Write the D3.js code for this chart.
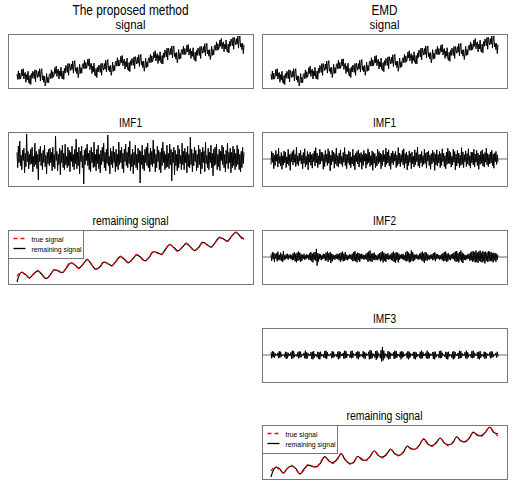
<!DOCTYPE html>
<html>
<head>
<meta charset="utf-8">
<script src="https://cdn.jsdelivr.net/npm/d3@7"></script>
<style>
  body { margin: 0; background: #fff; }
  text { font-family: "Liberation Sans", Arial, sans-serif; fill: #000; }
</style>
</head>
<body>
<div id="chart-area"></div>
<script>
// ---- data (values x10) ----
// observed signal (same in both columns)
const signal = [
  9,-5,18,-5,12,-4, 3,22,4,24,-4,10, 14,-13,8,-6,17,-12, -16,6,-19,11,-2,17,
  12,-3,21,-12,20,9, 0,17,2,24,-9,16, 24,-6,5,-13,4,-23, -12,11,-14,1,-14,9,
  11,-3,21,-2,16,1, 8,27,11,31,3,19, 23,-4,18,4,28,0, -4,18,-5,25,12,33,
  28,14,38,6,38,27, 19,37,22,45,12,37, 46,17,27,10,28,0, 12,36,11,27,12,35,
  38,24,47,24,41,25, 32,50,32,51,22,36, 39,11,31,16,39,9, 4,25,0,29,15,34,
  28,14,38,6,39,28, 20,38,23,47,15,40, 49,20,31,15,33,6, 18,42,17,33,19,42,
  45,31,54,31,48,32, 39,58,40,60,32,46, 50,23,43,29,53,23, 19,41,16,46,33,52,
  47,33,56,24,57,45, 37,55,39,62,30,54, 63,34,44,27,45,17, 29,53,27,43,29,51,
  54,40,63,41,59,43, 50,69,53,73,45,61, 65,38,60,46,70,42, 38,60,37,67,54,75,
  70,56,80,48,80,69, 61,79,63,86,53,78, 86,57,67,50,68,40, 52,76,50,66,52,74,
  77,63,85,62,79,63, 69,88,70,90,61,76, 79,52,72,58,81,52, 47,69,44,74,60,80,
  74,60,84,52,85,74, 66,84,69,92,59,84, 93,64,75,58,76,49, 61,85,60,76,62,85,
  88,74,97,74,92,76, 83,102,85,106,78,93, 97,70,91,78,102,73, 69,91,67,98,85,105,
  100,86,109,77,109,98, 89,106,91,113,80,105, 113,83,93,76,93,65, 89
]

// IMF1 of the proposed method
const imf1Proposed = [
  6,-9,12,-4,17,-7,3,-11,8,-2,10,-14,5,-8,24,-3,7,-10,4,-6,
  9,-5,11,-13,2,-8,15,-6,7,-10,4,-21,9,-3,12,-7,5,-11,8,-4,
  13,-8,3,-15,6,-5,9,-7,10,-4,6,-12,11,-8,4,-10,22,-2,7,-12,
  4,-6,10,-16,8,-4,13,-9,5,-11,14,-6,2,-9,11,-7,8,-13,6,-3,
  12,-8,4,-11,9,-5,19,-10,6,-7,11,-15,7,-3,12,-9,3,-25,8,-6,
  10,-2,14,-7,5,-11,8,-13,11,-4,6,-9,16,-8,4,-12,9,-5,13,-10,
  4,-14,8,-6,11,-3,15,-9,6,-12,9,-5,23,-7,2,-15,10,-6,7,-9,
  12,-4,6,-13,9,-8,4,-11,16,-6,8,-4,11,-10,5,-14,9,-3,14,-7,
  6,-9,11,-5,17,-12,4,-8,9,-15,6,-6,13,-9,4,-11,10,-4,8,-24,
  7,-6,13,-10,3,-12,9,-4,11,-7,15,-9,5,-13,10,-6,7,-8,18,-5,
  9,-13,4,-9,12,-3,8,-11,6,-14,10,-7,16,-4,7,-11,4,-9,13,-8,
  5,-10,14,-6,9,-22,6,-4,11,-16,8,-7,4,-12,13,-9,9,-5,3,-11,
  15,-6,7,-11,10,-4,6,-14,12,-8,4,-9,21,-6,9,-13,5,-7,11,-3,
  8,-12,4,-9,13,-6,9,-15,6,-10,11,-4,7,-13,16,-5,3,-9,10,-11,
  6,-4,13,-9,5,-17,9,-7,11,-6,14,-11,4,-8,9,-12,7,-2,13,-6,
  11,-9,4,-13,8,-5,15,-10,6,-4,10,-14,6,-9,12,-7,9,-11,5,-8,
  13,-6,9,-11,4,-13,7,-9,11,-5,6
]

// EMD intrinsic mode functions
const imf1Emd = [
  -10,14,-6,11,-18,7,-12,16,-4,9,-15,20,-8,5,-13,12,-19,6,-11,15,
  -7,13,-16,4,-9,18,-12,8,-21,10,-5,14,-11,17,-6,9,-14,22,-10,6,
  -13,11,-4,16,-9,7,-18,12,-8,19,-15,5,-11,14,-20,9,-6,13,-12,8,
  -17,10,-5,15,-13,21,-7,11,-16,6,-10,18,-9,13,-4,12,-19,8,-14,16,
  -6,9,-12,19,-8,14,-22,7,-11,16,-5,13,-17,10,-9,20,-13,6,-15,11,
  -8,17,-10,5,-14,12,-6,21,-12,9,-18,8,-7,15,-11,13,-16,4,-9,18,
  -13,7,-20,11,-5,14,-9,17,-15,10,-6,12,-19,8,-12,16,-4,11,-17,9,
  -10,19,-7,13,-14,6,-11,15,-21,12,-8,10,-16,5,-13,18,-9,14,-6,11,
  -18,9,-12,16,-5,8,-15,20,-10,13,-7,17,-13,6,-19,11,-8,15,-11,10,
  -4,14,-16,7,-12,21,-9,11,-14,8,-6,16,-11,19,-17,10,-8,13,-20,7,
  -12,15,-6,10,-18,13,-9,5,-15,17,-11,12,-5,22,-13,8,-16,9,-7,14,
  -14,6,-10,18,-8,11,-17,13,-4,15,-12,7,-19,10,-9,16,-6,12,-21,9,
  -11,17,-13,8,-7,14,-16,10,-12,19,-5,11,-14,6,-18,13,-10,20,-8,15,
  -9,12,-15,5,-11,18,-6,14,-20,9,-13,16,-8,11,-16,7,-12,21,-10,13,
  -16,8,-5,15,-14,10,-9,19,-12,6,-17,13,-7,12,-11,18,-15,9,-6,16,
  -12,11,-19,7,-10,14,-8,17,-13,9,-15,12,-6,20,-11,10,-14,8,-9,13,
  -7,16,-12,9,-17,11,-5,14,-10,8,-6
]

const imf2Emd = [
  5,-7,9,-4,8,-9,6,-3,7,-8,10,-5,4,-6,8,-7,5,-9,11,-6,
  3,-4,5,-3,6,-5,4,-2,5,-4,3,-6,7,-5,9,-8,6,-10,8,-7,
  10,-6,8,-9,5,-7,4,-3,6,-5,3,-4,5,-2,4,-5,7,-6,9,-8,
  6,-10,8,-5,9,-7,15,-16,7,-9,6,-4,5,-6,3,-4,6,-3,5,-7,
  8,-6,10,-9,7,-5,9,-11,6,-8,5,-4,3,-5,4,-3,6,-4,5,-6,
  7,-9,8,-6,10,-8,6,-7,9,-5,4,-6,3,-4,5,-3,4,-5,6,-8,
  9,-7,11,-8,6,-10,8,-6,7,-9,5,-4,6,-3,4,-5,3,-4,6,-5,
  8,-9,10,-7,12,-8,6,-9,7,-5,8,-6,4,-5,3,-6,5,-4,7,-8,
  9,-6,11,-10,8,-7,6,-9,5,-4,7,-5,3,-4,5,-6,8,-7,10,-9,
  7,-11,9,-6,8,-10,6,-5,4,-3,5,-4,6,-5,3,-7,9,-8,11,-7,
  8,-10,6,-9,12,-7,9,-8,5,-6,4,-3,5,-4,3,-5,6,-4,8,-6,
  10,-8,7,-11,9,-6,8,-7,5,-4,3,-5,4,-3,5,-6,7,-5,9,-8,
  6,-4,5,-3,4,-5,3,-4,5,-6,7,-8,9,-7,10,-9,6,-8,7,-5,
  4,-6,5,-3,6,-4,8,-7,10,-9,11,-8,7,-10,9,-6,12,-9,8,-11,
  6,-5,4,-6,3,-4,5,-3,6,-7,8,-6,10,-9,11,-8,9,-10,12,-9,
  8,-11,10,-7,12,-9,8,-10,11,-8,9,-12,10,-7,8,-9,11,-8,10,-7,
  9,-8,7,-10,8,-6,7,-9,6,-5,4
]

const imf3Emd = [
  5,-6,7,-4,6,-5,3,-1,1,-1,4,-6,7,-5,6,-3,1,-1,0,1,
  -4,6,-7,5,-6,4,-2,1,-1,5,-7,8,-6,7,-4,1,-1,1,-3,5,
  -6,7,-5,6,-4,1,0,-1,4,-6,8,-7,5,-6,3,-1,1,-1,5,-7,
  6,-8,7,-5,2,-1,1,-4,6,-7,5,-8,6,-3,1,-1,1,-5,7,-6,
  8,-7,5,-2,1,-1,0,3,-6,7,-5,6,-4,1,-1,1,-4,6,-8,7,
  -6,5,-2,1,-1,4,-7,8,-6,7,-5,2,-1,1,0,-5,7,-6,8,-5,
  3,-1,1,-1,5,-6,7,-8,6,-4,1,-1,1,-4,7,-6,5,-7,4,-1,
  1,-1,6,-8,9,-7,8,-6,3,-1,1,-5,7,-9,8,-6,4,-1,1,-6,
  9,-12,15,-10,8,-6,3,-1,1,-5,7,-8,6,-7,4,-1,1,-1,5,-7,
  8,-6,7,-5,2,-1,1,-4,6,-8,7,-5,6,-3,1,-1,0,4,-6,7,
  -8,6,-5,3,-1,1,-1,5,-7,6,-8,5,-4,1,-1,1,-5,6,-7,8,
  -6,5,-2,1,-1,4,-6,8,-7,5,-6,3,-1,1,-1,5,-7,6,-8,6,
  -4,1,-1,1,-5,7,-6,8,-5,4,-1,1,0,-4,6,-7,5,-8,6,-3,
  1,-1,1,-5,6,-8,7,-6,5,-2,1,-1,4,-7,8,-6,7,-5,3,-1,
  1,-1,5,-6,8,-7,5,-4,1,-1,1,-5,7,-6,8,-5,4,-1,1,-1,
  5,-7,6,-8,7,-5,2,-1,1,-4,6,-7,5,-6,3,-1,1,-1,5,-6,
  7,-5,6,-4,1,-1,0,4,-5,6,-3
]

// true (smooth) signal and the two estimated remaining signals
const trueSignal = [
  0,11,3,-4,6,14,4,-6,2,16,12,8,22,33,26,18,29,40,28,16,
  22,34,29,24,36,47,39,31,41,51,43,35,45,58,54,50,64,75,66,58,
  68,77,68,59,68,80,73,67,79,91,86,81,94,103,93,82
]
const remainingProposed = [
  -13,9,5,-3,5,13,5,-5,3,15,13,9,20,31,27,19,28,39,29,17,
  21,33,30,25,35,46,40,32,40,50,44,36,44,57,55,51,63,74,67,59,
  67,76,69,60,67,79,74,68,78,90,87,82,93,102,94,86
]
const remainingEmd = [
  -14,8,6,-5,7,12,6,-7,5,14,11,10,19,34,24,20,27,41,26,18,
  20,35,27,26,34,48,37,33,39,52,41,37,43,59,52,52,62,76,64,60,
  66,78,66,62,66,81,71,69,77,92,84,84,92,104,91,88
]

const legendLabels = ["true signal", "remaining signal"]
const emdImfDomain = [-50, 50]

// ---- layout ----
const COL = { LEFT: 8, RIGHT: 262, WIDTH: 245 }
const ROWS = [34, 132, 230, 328, 425]
const BOX_H = 54
const PAD_X = 9

const svg = d3.select("#chart-area").append("svg")
  .attr("width", 518)
  .attr("height", 489)

// narrow-looking labels: squeeze text to the widths seen in the picture
function label(sel, x, y, size, str, len, anchor) {
  return sel.append("text")
    .attr("x", x).attr("y", y)
    .attr("text-anchor", anchor || "middle")
    .attr("font-size", size + "px")
    .attr("textLength", len)
    .attr("lengthAdjust", "spacingAndGlyphs")
    .text(str)
}

// column headers
label(svg, COL.LEFT + COL.WIDTH / 2, 15, 14, "The proposed method", 116)
label(svg, COL.RIGHT + COL.WIDTH / 2, 15, 14, "EMD", 26)

const titleWidths = { "signal": 30, "IMF1": 23, "IMF2": 23, "IMF3": 23, "remaining signal": 76 }

function padded(ext) {
  const p = (ext[1] - ext[0]) * 0.04
  return [ext[0] - p, ext[1] + p]
}

function panel(left, top, title, series, opts = {}) {
  const g = svg.append("g").attr("transform", `translate(${left}, ${top})`)

  label(g, COL.WIDTH / 2, -5, 12, title, titleWidths[title])

  const allVals = series.flatMap(s => s.values)
  const y = d3.scaleLinear()
    .domain(opts.domain || padded(d3.extent(allVals)))
    .range([BOX_H, 0])

  if (opts.zero) {
    g.append("line")
      .attr("x1", 0).attr("x2", COL.WIDTH)
      .attr("y1", y(0)).attr("y2", y(0))
      .attr("stroke", "#444").attr("stroke-width", 0.8)
  }

  series.forEach(s => {
    const x = d3.scaleLinear()
      .domain([0, s.values.length - 1])
      .range([PAD_X, COL.WIDTH - PAD_X])
    const line = d3.line()
      .x((d, i) => x(i))
      .y(d => y(d))
    if (s.smooth) line.curve(d3.curveCatmullRom)
    g.append("path")
      .attr("d", line(s.values))
      .attr("fill", "none")
      .attr("stroke", s.color || "#000")
      .attr("stroke-width", s.width || 1)
      .attr("stroke-dasharray", s.dash || null)
      .attr("stroke-linejoin", "round")
  })

  g.append("rect")
    .attr("x", 0.5).attr("y", 0.5)
    .attr("width", COL.WIDTH).attr("height", BOX_H)
    .attr("fill", "none").attr("stroke", "#777")

  if (opts.legend) {
    const lg = g.append("g").attr("transform", "translate(0.5, 0.5)")
    lg.append("rect")
      .attr("width", 75).attr("height", 28)
      .attr("fill", "#fff").attr("stroke", "#777")
    const styles = [{ color: "#f00", dash: "4,3", len: 32 }, { color: "#000", dash: null, len: 50 }]
    legendLabels.forEach((lab, i) => {
      const ly = 8 + i * 10
      lg.append("line")
        .attr("x1", 5).attr("x2", 17).attr("y1", ly).attr("y2", ly)
        .attr("stroke", styles[i].color).attr("stroke-width", 1.3)
        .attr("stroke-dasharray", styles[i].dash)
      label(lg, 23, ly + 3, 8, lab, styles[i].len, "start")
    })
  }
}

const remainingSeries = est => [
  { values: est, width: 1.2, smooth: true },
  { values: trueSignal, color: "#f00", width: 1.2, dash: "4,3", smooth: true }
]

// left column
panel(COL.LEFT, ROWS[0], "signal", [{ values: signal }])
panel(COL.LEFT, ROWS[1], "IMF1", [{ values: imf1Proposed }])
panel(COL.LEFT, ROWS[2], "remaining signal", remainingSeries(remainingProposed), { legend: true })

// right column
panel(COL.RIGHT, ROWS[0], "signal", [{ values: signal }])
panel(COL.RIGHT, ROWS[1], "IMF1", [{ values: imf1Emd }], { domain: emdImfDomain, zero: true })
panel(COL.RIGHT, ROWS[2], "IMF2", [{ values: imf2Emd }], { domain: emdImfDomain, zero: true })
panel(COL.RIGHT, ROWS[3], "IMF3", [{ values: imf3Emd }], { domain: emdImfDomain, zero: true })
panel(COL.RIGHT, ROWS[4], "remaining signal", remainingSeries(remainingEmd), { legend: true })
</script>
</body>
</html>
